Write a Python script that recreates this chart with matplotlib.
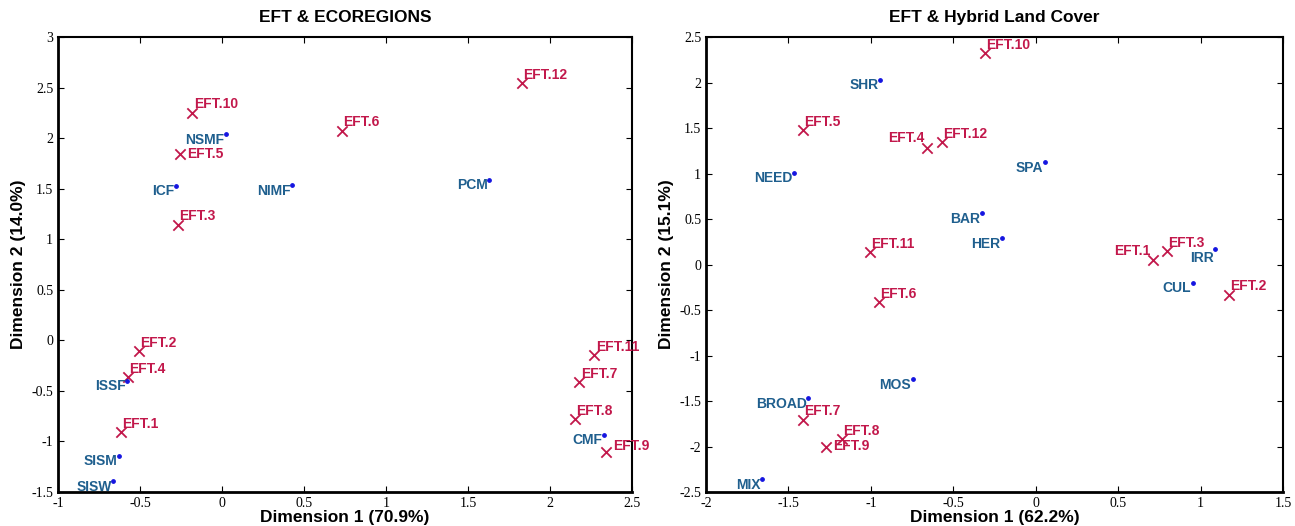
import matplotlib
matplotlib.use("Agg")
import matplotlib.pyplot as plt

# ── Data: EFT & ecoregions ──
eco_eft_names = ["EFT.1", "EFT.2", "EFT.3", "EFT.4", "EFT.5", "EFT.6",
                 "EFT.7", "EFT.8", "EFT.9", "EFT.10", "EFT.11", "EFT.12"]
eco_eft_x = [-0.617, -0.506, -0.268, -0.576, -0.256, 0.73,
             2.18, 2.153, 2.34, -0.18, 2.27, 1.827]
eco_eft_y = [-0.91, -0.106, 1.145, -0.363, 1.843, 2.074,
             -0.416, -0.78, -1.10, 2.25, -0.145, 2.545]

eco_names = ["NSMF", "ICF", "NIMF", "PCM", "ISSF", "SISM", "SISW", "CMF"]
eco_x = [0.025, -0.28, 0.426, 1.63, -0.58, -0.629, -0.662, 2.33]
eco_y = [2.04, 1.53, 1.537, 1.59, -0.40, -1.14, -1.39, -0.934]

# ── Data: EFT & hybrid land cover ──
lc_eft_names = ["EFT.1", "EFT.2", "EFT.3", "EFT.4", "EFT.5", "EFT.6",
                "EFT.7", "EFT.8", "EFT.9", "EFT.10", "EFT.11", "EFT.12"]
lc_eft_x = [0.711, 1.170, 0.793, -0.657, -1.413, -0.952,
            -1.413, -1.176, -1.274, -0.31, -1.006, -0.570]
lc_eft_y = [0.046, -0.333, 0.145, 1.28, 1.478, -0.413,
            -1.707, -1.919, -2.0, 2.324, 0.137, 1.346]

lc_names = ["SHR", "SPA", "NEED", "BAR", "HER", "IRR", "CUL", "MOS", "BROAD", "MIX"]
lc_x = [-0.944, 0.054, -1.468, -0.327, -0.205, 1.09, 0.951, -0.747, -1.381, -1.663]
lc_y = [2.031, 1.126, 1.009, 0.566, 0.288, 0.174, -0.20, -1.257, -1.466, -2.357]

EFT_COLOR = "#C2184B"
LABEL_COLOR = "#1F5F8E"
DOT_COLOR = "#1515E0"
SANS = ["Liberation Sans", "DejaVu Sans"]
SERIF = ["Liberation Serif", "DejaVu Serif"]

# label offsets in points for names that don't sit in their default spot
eco_eft_offsets = {"EFT.5": (5, -5), "EFT.9": (5, -1)}
lc_eft_offsets = {"EFT.4": (-2, 2, "right"), "EFT.1": (-2, 2, "right"),
                  "EFT.9": (5, -5)}
lc_dot_offsets = {"IRR": (-1, -2)}


def draw_panel(ax, ex, ey, enames, cx, cy, cnames, offsets, dot_offsets=None):
    dot_offsets = dot_offsets or {}
    ax.scatter(ex, ey, marker="x", s=55, color=EFT_COLOR, linewidths=1.3, zorder=3)
    for x, y, n in zip(ex, ey, enames):
        off = offsets.get(n, (1, 1))
        ha = off[2] if len(off) > 2 else "left"
        ax.annotate(n, (x, y), xytext=off[:2], textcoords="offset points",
                    ha=ha, va="bottom", color=EFT_COLOR, fontsize=10,
                    fontweight="bold", family=SANS)
    ax.scatter(cx, cy, marker="o", s=6, color=DOT_COLOR, zorder=3)
    for x, y, n in zip(cx, cy, cnames):
        ax.annotate(n, (x, y), xytext=dot_offsets.get(n, (-1, 1)),
                    textcoords="offset points", ha="right", va="top",
                    color=LABEL_COLOR, fontsize=10, fontweight="bold", family=SANS)

    ax.tick_params(direction="in", top=True, right=True, length=4, width=0.8,
                   labelsize=10, colors="black")
    for lab in ax.get_xticklabels() + ax.get_yticklabels():
        lab.set_family(SERIF)
    for side in ["left", "bottom"]:
        ax.spines[side].set_linewidth(2.0)
    for side in ["top", "right"]:
        ax.spines[side].set_linewidth(1.5)


fig = plt.figure(figsize=(12.95, 5.26), dpi=100)
ax1 = fig.add_axes([0.0448, 0.0646, 0.4432, 0.865])
ax2 = fig.add_axes([0.5452, 0.0646, 0.4456, 0.865])

label_kw = dict(fontsize=12.5, fontweight="bold", family=SANS)

draw_panel(ax1, eco_eft_x, eco_eft_y, eco_eft_names,
           eco_x, eco_y, eco_names, eco_eft_offsets)
ax1.set_xlim(-1, 2.5)
ax1.set_ylim(-1.5, 3)
ax1.set_xticks([-1, -0.5, 0, 0.5, 1, 1.5, 2, 2.5])
ax1.set_xticklabels(["-1", "-0.5", "0", "0.5", "1", "1.5", "2", "2.5"])
ax1.set_yticks([-1.5, -1, -0.5, 0, 0.5, 1, 1.5, 2, 2.5, 3])
ax1.set_yticklabels(["-1.5", "-1", "-0.5", "0", "0.5", "1", "1.5", "2", "2.5", "3"])
ax1.set_title("EFT & ECOREGIONS", fontsize=12.5, fontweight="bold", family=SANS, pad=11)
ax1.set_xlabel("Dimension 1 (70.9%)", labelpad=0, **label_kw)
ax1.set_ylabel("Dimension 2 (14.0%)", labelpad=4, **label_kw)

draw_panel(ax2, lc_eft_x, lc_eft_y, lc_eft_names,
           lc_x, lc_y, lc_names, lc_eft_offsets, lc_dot_offsets)
ax2.set_xlim(-2, 1.5)
ax2.set_ylim(-2.5, 2.5)
ax2.set_xticks([-2, -1.5, -1, -0.5, 0, 0.5, 1, 1.5])
ax2.set_xticklabels(["-2", "-1.5", "-1", "-0.5", "0", "0.5", "1", "1.5"])
ax2.set_yticks([-2.5, -2, -1.5, -1, -0.5, 0, 0.5, 1, 1.5, 2, 2.5])
ax2.set_yticklabels(["-2.5", "-2", "-1.5", "-1", "-0.5", "0", "0.5", "1", "1.5", "2", "2.5"])
ax2.set_title("EFT & Hybrid Land Cover", fontsize=12.5, fontweight="bold", family=SANS, pad=11)
ax2.set_xlabel("Dimension 1 (62.2%)", labelpad=0, **label_kw)
ax2.set_ylabel("Dimension 2 (15.1%)", labelpad=4, **label_kw)

fig.savefig("out.png", dpi=100)
